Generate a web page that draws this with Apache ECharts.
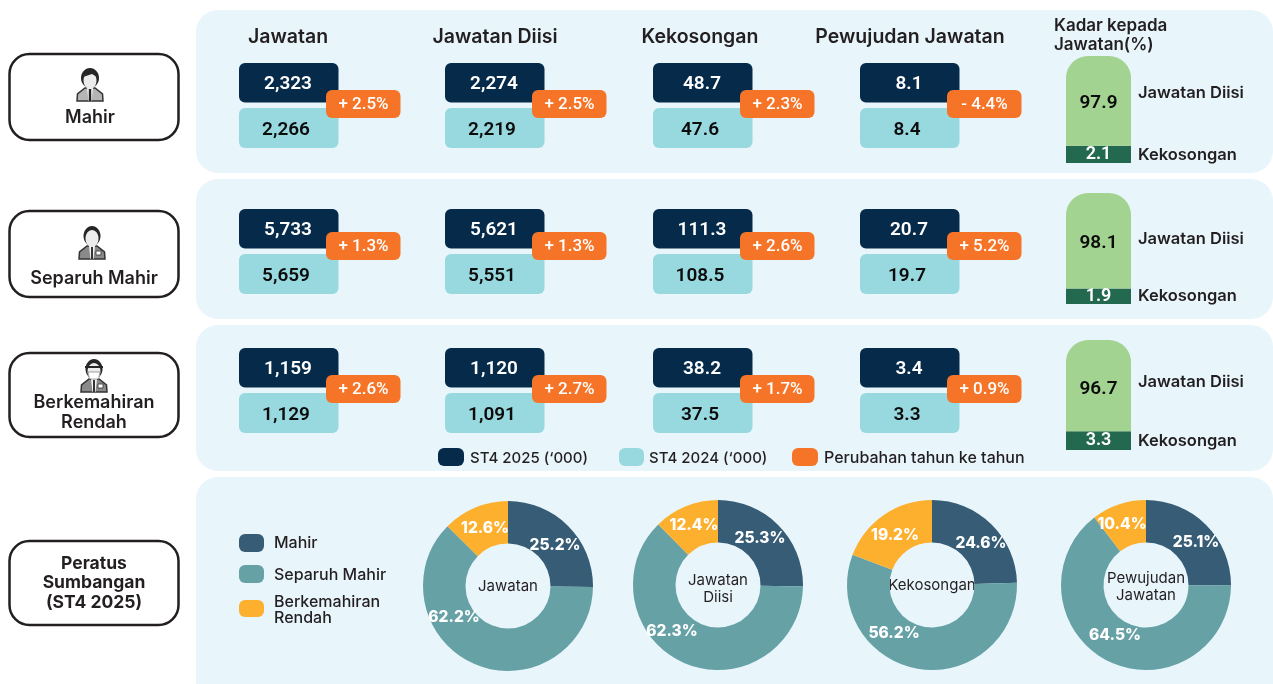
<!DOCTYPE html>
<html>
<head>
<meta charset="utf-8">
<title>Jawatan mengikut kemahiran</title>
<script src="https://cdn.jsdelivr.net/npm/echarts@6/dist/echarts.min.js"></script>
<style>
  html, body { margin: 0; padding: 0; background: #fff; }
  #main { width: 1273px; height: 684px; }
</style>
</head>
<body>
<div id="main"></div>
<script>
// values, one list per measure, rows = skill levels
const headers = ['Jawatan', 'Jawatan Diisi', 'Kekosongan', 'Pewujudan Jawatan'];
const skillLevels = [['Mahir'], ['Separuh Mahir'], ['Berkemahiran', 'Rendah']];

const jawatan2025 = ['2,323', '5,733', '1,159'];
const jawatan2024 = ['2,266', '5,659', '1,129'];
const jawatanChange = ['+ 2.5%', '+ 1.3%', '+ 2.6%'];

const diisi2025 = ['2,274', '5,621', '1,120'];
const diisi2024 = ['2,219', '5,551', '1,091'];
const diisiChange = ['+ 2.5%', '+ 1.3%', '+ 2.7%'];

const kosong2025 = ['48.7', '111.3', '38.2'];
const kosong2024 = ['47.6', '108.5', '37.5'];
const kosongChange = ['+ 2.3%', '+ 2.6%', '+ 1.7%'];

const wujud2025 = ['8.1', '20.7', '3.4'];
const wujud2024 = ['8.4', '19.7', '3.3'];
const wujudChange = ['- 4.4%', '+ 5.2%', '+ 0.9%'];

const kadarDiisi = [97.9, 98.1, 96.7];
const kadarKosong = [2.1, 1.9, 3.3];

const shareNames = ['Mahir', 'Separuh Mahir', 'Berkemahiran Rendah'];
const shareJawatan = [25.2, 62.2, 12.6];
const shareDiisi = [25.3, 62.3, 12.4];
const shareKosong = [24.6, 56.2, 19.2];
const shareWujud = [25.1, 64.5, 10.4];

const INK = '#231f20';
const HEAD_FONT = 'Inter';
const NUM_FONT = 'Roboto';
const PANEL = '#e8f6fc';
const shareColors = ['#375c75', '#66a1a6', '#fdb02e'];

const columns = [
  { x: 239, head: 288, now: jawatan2025, last: jawatan2024, change: jawatanChange },
  { x: 445, head: 495, now: diisi2025, last: diisi2024, change: diisiChange },
  { x: 653, head: 700, now: kosong2025, last: kosong2024, change: kosongChange },
  { x: 860, head: 910, now: wujud2025, last: wujud2024, change: wujudChange }
];

// layout of each row: y of dark tile, light tile, orange badge, and the stacked bar
const rows = [
  { dark: 63, light: 108, badge: 90, barTop: 56, barH: 107, box: 54, boxH: 86, rateY: 92, kosongY: 154, axisMin: 1, nudge: 2 },
  { dark: 209, light: 254, badge: 232, barTop: 193, barH: 111, box: 211, boxH: 86, rateY: 238, kosongY: 295, axisMin: 1, nudge: 2 },
  { dark: 348, light: 393, badge: 375, barTop: 340, barH: 110, box: 353, boxH: 84, rateY: 381, kosongY: 440, axisMin: 1.64, nudge: 4 }
];

const g = [];

function text(x, y, str, size, weight, fill, align, font) {
  g.push({
    type: 'text', x: x, y: y + 1,
    style: {
      text: str, fontSize: size, fontWeight: weight || 500, fill: fill || INK,
      fontFamily: font || HEAD_FONT, align: align || 'center', verticalAlign: 'middle'
    }
  });
}

function rect(x, y, w, h, r, fill, stroke) {
  g.push({
    type: 'rect',
    shape: { x: x, y: y, width: w, height: h, r: r },
    style: stroke ? { fill: fill, stroke: stroke, lineWidth: 2.5 } : { fill: fill }
  });
}

// small staff figures in the row labels
function person(cx, top, kind) {
  const parts = [
    { type: 'polygon', shape: { points: [[-13, 33], [-12.5, 26], [-5, 20], [5, 20], [12.5, 26], [13, 33]] },
      style: { fill: kind === 0 ? '#b5b5b5' : '#8a8a8a', stroke: '#333', lineWidth: 1.5 } },
    { type: 'polygon', shape: { points: [[-3, 20], [3, 20], [1.5, 33], [-1.5, 33]] }, style: { fill: '#f4f4f4' } },
    { type: 'ellipse', shape: { cx: 0, cy: 10, rx: kind === 0 ? 9 : 8.5, ry: 10 }, style: { fill: '#262626' } },
    { type: 'ellipse', shape: { cx: 0, cy: 12.5, rx: 6.5, ry: 8.5 }, style: { fill: '#ececec' } }
  ];
  if (kind === 0) {
    parts.push({ type: 'polygon', shape: { points: [[-1.2, 21], [1.2, 21], [1.2, 33], [-1.2, 33]] }, style: { fill: '#222' } });
    parts.push({ type: 'polygon', shape: { points: [[-7, 9], [-3, 4], [4, 3], [7, 9], [2, 6]] }, style: { fill: '#262626' } });
  } else {
    parts.push({ type: 'polygon', shape: { points: [[-1, 21], [1, 21], [1, 33], [-1, 33]] }, style: { fill: '#333' } });
    parts.push({ type: 'rect', shape: { x: 4, y: 25, width: 5, height: 4 }, style: { fill: '#fff', stroke: '#333', lineWidth: 0.8 } });
  }
  if (kind === 2) {
    parts.push({ type: 'polygon', shape: { points: [[-6, 13], [6, 13], [4.5, 20], [-4.5, 20]] }, style: { fill: '#fff', stroke: '#666', lineWidth: 0.6 } });
    parts.push({ type: 'rect', shape: { x: -9, y: 7, width: 18, height: 2 }, style: { fill: '#262626' } });
  }
  g.push({ type: 'group', x: cx, y: top, children: parts });
}

// background panels
rect(196, 10, 1077, 163, 22, PANEL);
rect(196, 179, 1077, 140, 22, PANEL);
rect(196, 325, 1077, 146, 22, PANEL);
rect(196, 477, 1077, 240, 22, PANEL);

// row label boxes
rows.forEach(function (row) {
  rect(9.5, row.box, 169, row.boxH, 20, '#fff', INK);
});
rect(9.5, 541, 169, 84, 20, '#fff', INK);
person(90, 68, 0);
person(92, 226, 1);
person(94, 359, 2);
text(90, 117, skillLevels[0][0], 18, 600);
text(94, 278, skillLevels[1][0], 18, 600);
text(94, 402, skillLevels[2][0], 18, 600);
text(94, 422, skillLevels[2][1], 18, 600);
text(94, 563, 'Peratus', 17.5, 700);
text(94, 582, 'Sumbangan', 17.5, 700);
text(94, 602, '(ST4 2025)', 17.5, 700);

// column titles
columns.forEach(function (col, k) {
  text(col.head, 36, headers[k], 19.5, 600);
});
text(1054, 25, 'Kadar kepada', 17, 600, INK, 'left');
text(1054, 44, 'Jawatan(%)', 17, 600, INK, 'left');

// tiles with the 2025 / 2024 figures and year on year change
columns.forEach(function (col) {
  rows.forEach(function (row, i) {
    rect(col.x, row.dark, 99.5, 39.5, 6, '#062a49');
    rect(col.x, row.light, 99.5, 40, 6, '#98d8df');
    rect(col.x + 87, row.badge, 74.5, 28, 6, '#f57427');
    text(col.x + 49, row.dark + 20, col.now[i], 19, 600, '#fff', 'center', NUM_FONT);
    text(col.x + 47, row.light + 21, col.last[i], 19, 600, '#0c0c0c', 'center', NUM_FONT);
    text(col.x + 124.5, row.badge + 14, col.change[i], 17, 500, '#fff', 'center', NUM_FONT);
  });
});

// labels next to the stacked bars
rows.forEach(function (row) {
  text(1138, row.rateY, 'Jawatan Diisi', 16.5, 600, INK, 'left');
  text(1138, row.kosongY, 'Kekosongan', 16.5, 600, INK, 'left');
});

// legend of the tiles
rect(438, 448, 26, 18, 6, '#062a49');
text(470, 457, 'ST4 2025 (‘000)', 15, 500, INK, 'left');
rect(619, 448, 25, 18, 6, '#98d8df');
text(649, 457, 'ST4 2024 (‘000)', 15, 500, INK, 'left');
rect(792, 448, 26, 18, 6, '#f57427');
text(824, 457, 'Perubahan tahun ke tahun', 16, 500, INK, 'left');

// legend of the donuts
rect(239, 534, 25, 18, 6, shareColors[0]);
text(274, 542, 'Mahir', 16, 500, INK, 'left');
rect(239, 565, 25, 18, 6, shareColors[1]);
text(274, 574, 'Separuh Mahir', 16, 500, INK, 'left');
rect(239, 600, 25, 17, 6, shareColors[2]);
text(274, 601, 'Berkemahiran', 16, 500, INK, 'left');
text(274, 617, 'Rendah', 16, 500, INK, 'left');

// donuts
const pies = [
  { values: shareJawatan, c: [508, 586], title: [['Jawatan', 585]], spots: [[555, 545], [454, 617], [485, 528]] },
  { values: shareDiisi, c: [718, 585], title: [['Jawatan', 579], ['Diisi', 596]], spots: [[760, 538], [672, 631], [694, 525]] },
  { values: shareKosong, c: [932, 585], title: [['Kekosongan', 584]], spots: [[981, 543], [894, 633], [895, 535]] },
  { values: shareWujud, c: [1146, 585], title: [['Pewujudan', 577], ['Jawatan', 594]], spots: [[1196, 542], [1115, 635], [1122, 524]] }
];
pies.forEach(function (p) {
  p.title.forEach(function (t) { text(p.c[0], t[1], t[0], 15, 400); });
});

const grid = [], xAxis = [], yAxis = [], series = [];

rows.forEach(function (row, i) {
  grid.push({ left: 1066, width: 65, top: row.barTop, height: row.barH });
  xAxis.push({ gridIndex: i, type: 'category', data: ['Kadar'], show: false });
  yAxis.push({ gridIndex: i, type: 'log', min: row.axisMin, max: 100, show: false });
  series.push({
    type: 'bar', name: 'Kekosongan', stack: 'kadar' + i, xAxisIndex: i, yAxisIndex: i,
    barWidth: 65, data: [kadarKosong[i]],
    itemStyle: { color: '#23694f' },
    label: { show: true, position: 'inside', color: '#fff', fontFamily: NUM_FONT, fontWeight: 600, fontSize: 18 }
  });
  series.push({
    type: 'bar', name: 'Jawatan Diisi', stack: 'kadar' + i, xAxisIndex: i, yAxisIndex: i,
    barWidth: 65, data: [kadarDiisi[i]],
    itemStyle: { color: '#a3d391', borderRadius: [22, 22, 0, 0] },
    label: { show: true, position: 'inside', offset: [0, row.nudge], color: '#0c0c0c', fontFamily: NUM_FONT, fontWeight: 600, fontSize: 19 }
  });
});

pies.forEach(function (p) {
  series.push({
    type: 'pie', center: p.c, radius: [42.5, 85], startAngle: 90, clockwise: true,
    silent: true, animation: false,
    data: shareNames.map(function (name, k) {
      return { name: name, value: p.values[k], itemStyle: { color: shareColors[k] } };
    }),
    label: {
      show: true, position: 'inside', color: '#fff', fontFamily: HEAD_FONT, fontWeight: 800, fontSize: 15.5,
      formatter: function (params) { return params.value.toFixed(1) + '%'; }
    },
    labelLine: { show: false },
    labelLayout: function (params) {
      const spot = p.spots[params.dataIndex];
      return { x: spot[0], y: spot[1], align: 'center', verticalAlign: 'middle' };
    }
  });
});

const chart = echarts.init(document.getElementById('main'));
chart.setOption({
  animation: false,
  backgroundColor: '#fff',
  graphic: { elements: g },
  grid: grid,
  xAxis: xAxis,
  yAxis: yAxis,
  series: series
});
</script>
</body>
</html>
